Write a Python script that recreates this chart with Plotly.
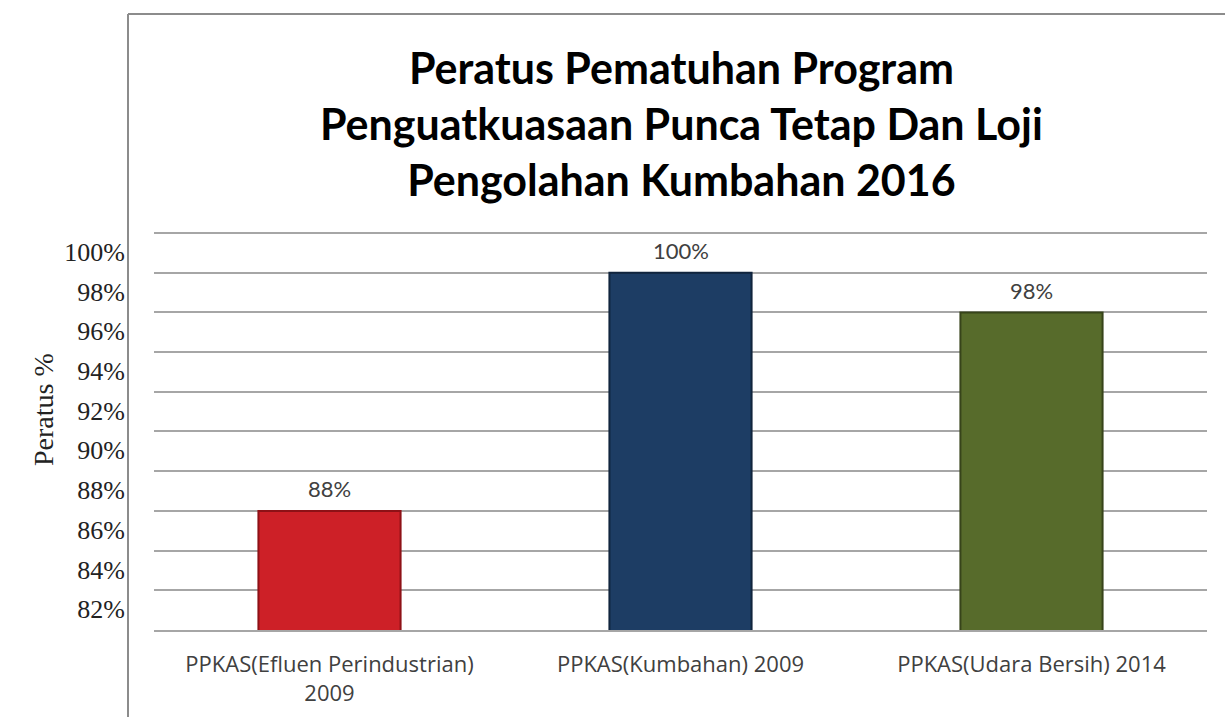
import plotly.graph_objects as go

categories = ["PPKAS(Efluen Perindustrian)<br>2009", "PPKAS(Kumbahan) 2009", "PPKAS(Udara Bersih) 2014"]
values = [88, 100, 98]
bar_colors = ["#cd2027", "#1d3d64", "#576b2b"]
edge_colors = ["#8e1116", "#10243d", "#37441a"]
tick_values = [82, 84, 86, 88, 90, 92, 94, 96, 98, 100]
tick_labels = [f"{v}%" for v in tick_values]
title_text = "Peratus Pematuhan Program<br>Penguatkuasaan Punca Tetap Dan Loji<br>Pengolahan Kumbahan 2016"
y_title = "Peratus %"

W, H = 1225, 717
ML, MR, MT, MB = 125, 18, 231, 87
PW = W - ML - MR
PH = H - MT - MB

def px_to_paper_x(px):
    return (px - ML) / PW

def px_to_paper_y(py):
    return (H - MB - py) / PH

fig = go.Figure()
fig.add_trace(go.Bar(
    x=categories, y=values,
    marker=dict(color=bar_colors, line=dict(color=edge_colors, width=2)),
    width=0.405,
    showlegend=False,
    hoverinfo="skip",
))

# invisible trace for the label axis
fig.add_trace(go.Scatter(x=[categories[0]], y=[90], yaxis="y2", mode="markers",
                         marker=dict(opacity=0), showlegend=False, hoverinfo="skip"))

annotations = []
for c, v in zip(categories, values):
    annotations.append(dict(x=c, y=v, xref="x", yref="y", text=f"{v}%", showarrow=False,
                            yshift=22, font=dict(family="Lato", size=22, color="#404040")))
annotations.append(dict(x=px_to_paper_x(681), y=px_to_paper_y(123), xref="paper", yref="paper",
                        text=title_text, showarrow=False, xanchor="center", yanchor="middle",
                        font=dict(family="Lato", size=43, color="#000000", weight="bold"), align="center"))
annotations.append(dict(x=px_to_paper_x(43), y=px_to_paper_y(410), xref="paper", yref="paper",
                        text=y_title, showarrow=False, textangle=-90, xanchor="center", yanchor="middle",
                        font=dict(family="Liberation Serif", size=28, color="#222222")))

shapes = [
    dict(type="line", xref="paper", yref="paper", x0=px_to_paper_x(128), x1=px_to_paper_x(128),
         y0=px_to_paper_y(14), y1=px_to_paper_y(717), line=dict(color="#8c8c8c", width=2)),
    dict(type="line", xref="paper", yref="paper", x0=px_to_paper_x(128), x1=px_to_paper_x(1225),
         y0=px_to_paper_y(14), y1=px_to_paper_y(14), line=dict(color="#8c8c8c", width=2)),
]

fig.update_layout(
    width=W, height=H,
    margin=dict(l=ML, r=MR, t=MT, b=MB, autoexpand=False),
    paper_bgcolor="white", plot_bgcolor="white",
    bargap=0.595,
    xaxis=dict(domain=[px_to_paper_x(154), 1], showgrid=False, showline=True, linecolor="#a6a6a6",
               linewidth=2, ticks="outside", ticklen=14, tickcolor="rgba(0,0,0,0)", automargin=False,
               tickfont=dict(family="Open Sans", size=22, color="#404040"), fixedrange=True),
    yaxis=dict(range=[82, 102.1], dtick=2, tick0=82, showgrid=True, gridcolor="#a6a6a6", gridwidth=2,
               showticklabels=False, zeroline=False, showline=False, fixedrange=True, automargin=False),
    yaxis2=dict(overlaying="y", anchor="free", position=0, side="left", automargin=False,
                range=[82 - 1.05, 102.1 - 1.05], tickmode="array", tickvals=tick_values, ticktext=tick_labels,
                showgrid=False, zeroline=False, showline=False, ticks="",
                tickfont=dict(family="Liberation Serif", size=26, color="#222222"), fixedrange=True),
    annotations=annotations,
    shapes=shapes,
)

fig.write_html("out.html", config={"displayModeBar": False},
               post_script="document.body.style.margin='0';")
